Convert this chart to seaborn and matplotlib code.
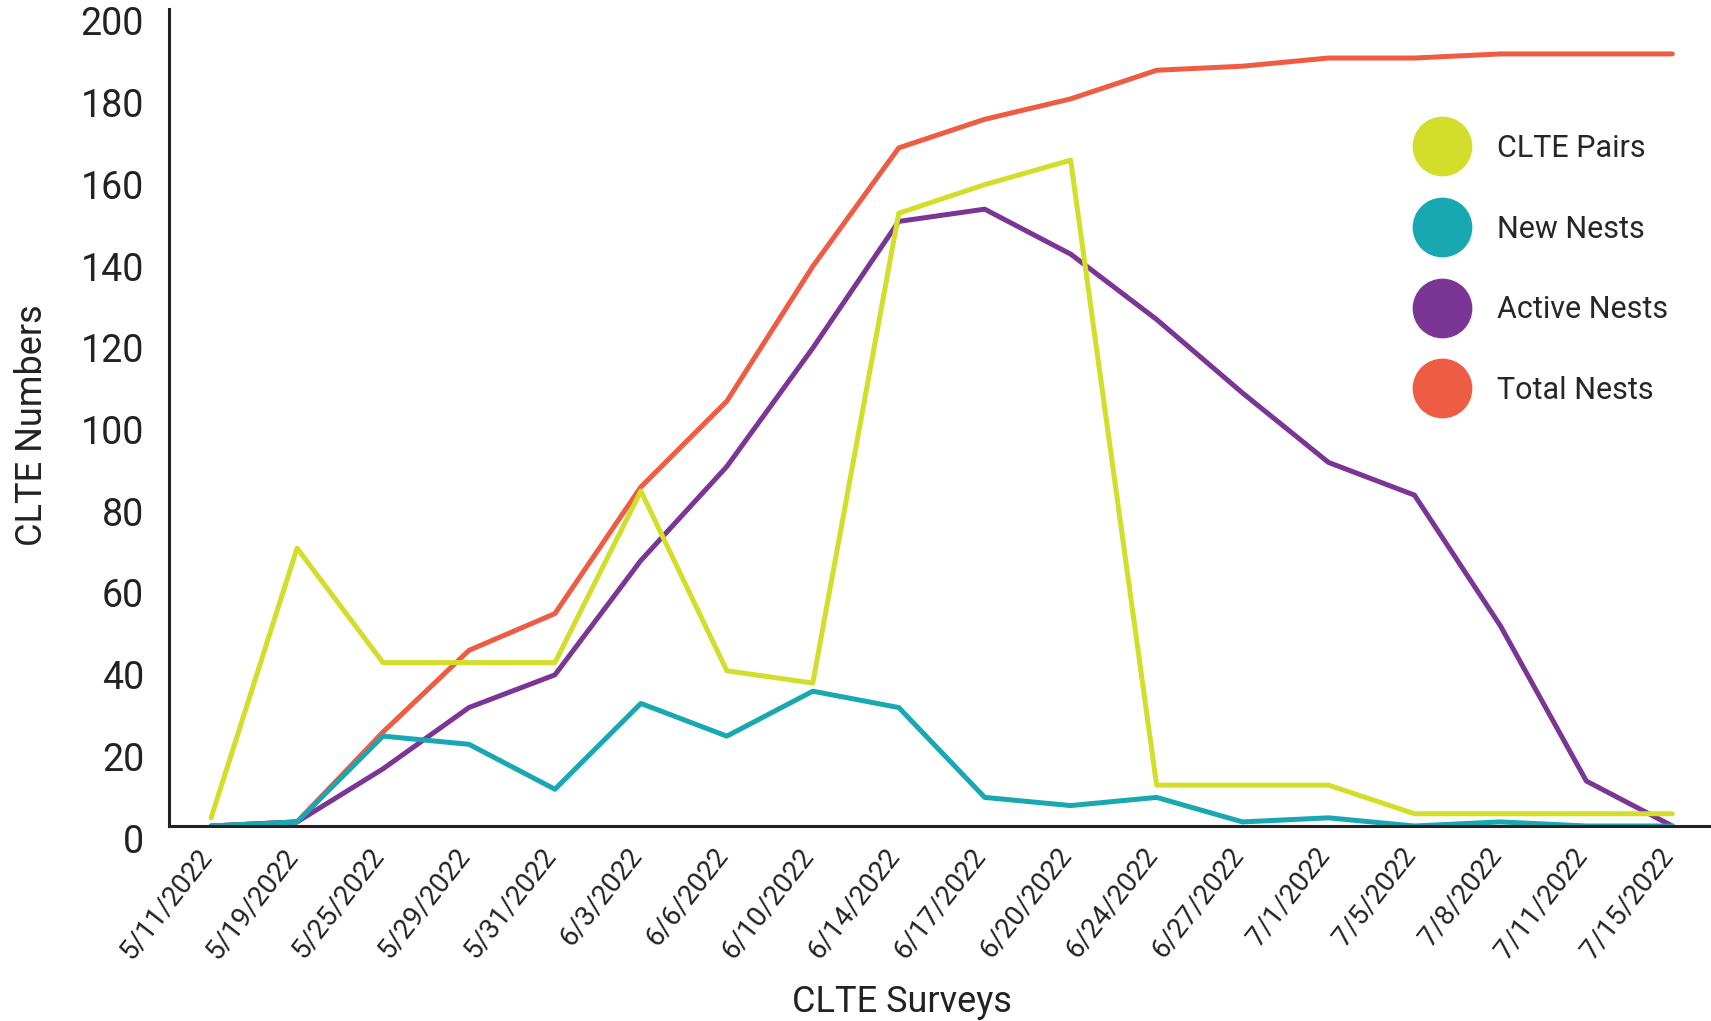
import matplotlib
matplotlib.use("Agg")
import matplotlib.pyplot as plt
from matplotlib.lines import Line2D
from matplotlib.transforms import ScaledTranslation
import seaborn as sns
import pandas as pd

# Survey dates and counts
dates = ["5/11/2022", "5/19/2022", "5/25/2022", "5/29/2022", "5/31/2022", "6/3/2022",
         "6/6/2022", "6/10/2022", "6/14/2022", "6/17/2022", "6/20/2022", "6/24/2022",
         "6/27/2022", "7/1/2022", "7/5/2022", "7/8/2022", "7/11/2022", "7/15/2022"]
clte_pairs = [2, 68, 40, 40, 40, 82, 38, 35, 150, 157, 163, 10, 10, 10, 3, 3, 3, 3]
new_nests = [0, 1, 22, 20, 9, 30, 22, 33, 29, 7, 5, 7, 1, 2, 0, 1, 0, 0]
active_nests = [0, 1, 14, 29, 37, 65, 88, 117, 148, 151, 140, 124, 106, 89, 81, 49, 11, 0]
total_nests = [0, 1, 23, 43, 52, 83, 104, 137, 166, 173, 178, 185, 186, 188, 188, 189, 189, 189]

series_names = ["CLTE Pairs", "New Nests", "Active Nests", "Total Nests"]
series_colors = ["#d2de2a", "#17a8b2", "#7b3595", "#ee5c43"]
y_ticks = [0, 20, 40, 60, 80, 100, 120, 140, 160, 180, 200]

frames = []
for name, vals in zip(series_names, [clte_pairs, new_nests, active_nests, total_nests]):
    frames.append(pd.DataFrame({"pos": range(len(dates)), "value": vals, "series": name}))
df = pd.concat(frames, ignore_index=True)

sns.set_theme(style="white")
plt.rcParams["font.family"] = ["Roboto", "DejaVu Sans"]

fig = plt.figure(figsize=(17.11, 10.21), dpi=100)
ax = fig.add_axes([169 / 1711, 195 / 1021, 1 - 169 / 1711, 817 / 1021])

# draw series in reverse so the pairs line sits on top
sns.lineplot(data=df, x="pos", y="value", hue="series",
             hue_order=series_names[::-1], palette=series_colors[::-1],
             linewidth=3.6, legend=False, ax=ax, sort=False)

ax.set_xlim(-0.49, 17.45)
ax.set_ylim(0, 200)
ax.set_yticks(y_ticks)
ax.set_yticklabels([str(v) for v in y_ticks], fontsize=27, color="#222222")
ax.set_xticks(range(len(dates)))
ax.set_xticklabels(dates, rotation=52, ha="right", va="top",
                   rotation_mode="anchor", fontsize=20, color="#222222")
ax.tick_params(axis="both", length=0)
ax.tick_params(axis="y", pad=18)
ax.tick_params(axis="x", pad=12)

# y tick numbers sit a little below their values
y_shift = ScaledTranslation(0, -12 / 100, fig.dpi_scale_trans)
for lbl in ax.get_yticklabels():
    lbl.set_transform(lbl.get_transform() + y_shift)
x_shift = ScaledTranslation(-15 / 100, 0, fig.dpi_scale_trans)
for lbl in ax.get_xticklabels():
    lbl.set_transform(lbl.get_transform() + x_shift)

for side in ["top", "right"]:
    ax.spines[side].set_visible(False)
for side in ["left", "bottom"]:
    ax.spines[side].set_color("#222222")
    ax.spines[side].set_linewidth(2.2)

ax.set_xlabel("CLTE Surveys", fontsize=26, color="#222222")
ax.set_ylabel("CLTE Numbers", fontsize=26, color="#222222")
ax.xaxis.set_label_coords(0.475, -0.194)
ax.yaxis.set_label_coords(-0.077, 0.49)

handles = [Line2D([0], [0], marker="o", linestyle="none", markersize=42,
                  markerfacecolor=c, markeredgecolor=c) for c in series_colors]
ax.legend(handles, series_names, loc="upper left", bbox_to_anchor=(0.806, 0.862),
          frameon=False, fontsize=22, labelspacing=1.69, handletextpad=1.2,
          handlelength=1.2, borderaxespad=0)

fig.savefig("out.png", dpi=100, facecolor="white")
